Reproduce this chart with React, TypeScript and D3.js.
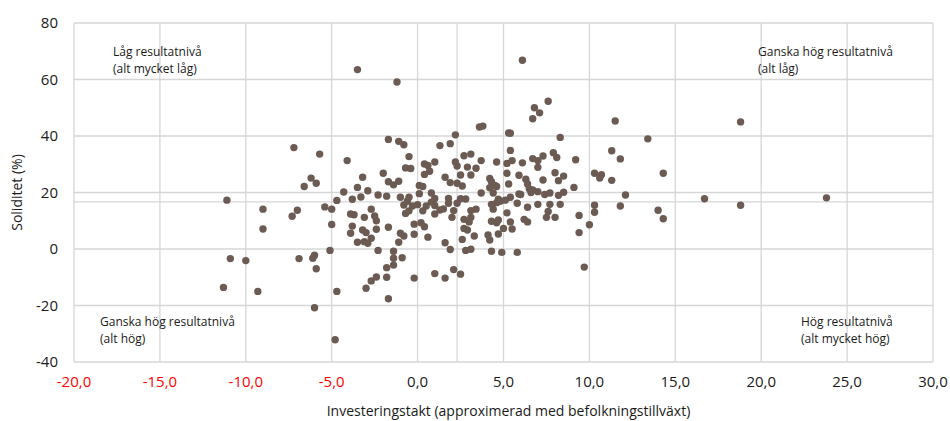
import React, { useEffect, useRef } from "react";
import * as d3 from "d3";

// [investeringstakt, soliditet]
const punkter: [number, number][] = [
  [-7.2, 35.9], [-5.7, 33.6], [-6.2, 25.1], [-6.6, 22.1], [-5.9, 23.3], [-11.1, 17.3], [-9.0, 14.1],
  [-7.0, 13.7], [-7.3, 11.6], [-5.4, 14.9], [-5.0, 14.1], [-9.0, 7.1], [-5.0, 8.7], [-10.9, -3.4],
  [-10.0, -4.1], [-6.9, -3.4], [-6.0, -2.2], [-6.1, -3.3], [-5.9, -7.0], [-5.1, -0.5], [-11.3, -13.6],
  [-9.3, -15.0], [-6.0, -20.8],
  [-3.5, 63.5], [-1.2, 59.1], [-1.7, 38.8], [-1.1, 38.1], [-0.8, 36.9], [-4.1, 31.3], [-0.5, 32.7],
  [1.3, 36.6], [1.9, 37.3], [2.2, 40.4], [-3.2, 25.4], [-2.0, 26.8], [-0.7, 28.7], [-0.4, 28.5],
  [0.4, 30.1], [0.6, 29.6], [1.0, 30.8], [0.7, 27.5], [0.4, 26.4], [2.2, 30.8], [-3.5, 21.8],
  [-1.7, 23.8], [-1.4, 22.7], [-1.1, 24.0], [0.1, 22.5], [0.3, 22.1], [1.6, 25.4], [1.9, 23.5],
  [-2.9, 20.6], [-4.3, 20.2], [-2.3, 19.1], [-1.8, 18.7], [-1.0, 18.3], [-0.5, 18.3], [0.1, 19.6],
  [0.8, 19.8], [-3.3, 18.4], [-3.8, 17.6], [-4.7, 17.2], [1.0, 17.9], [1.8, 17.9],
  [-2.7, 14.1], [-3.9, 12.4], [-3.7, 12.1], [-3.1, 11.2], [-2.5, 11.7], [-2.4, 10.0], [-0.8, 15.6],
  [-0.6, 16.9], [-0.3, 15.2], [0.0, 15.7], [-0.7, 12.6], [-0.5, 13.5], [0.3, 13.5], [0.5, 15.2],
  [0.8, 16.6], [1.0, 15.4], [1.0, 12.4], [1.3, 13.8], [1.5, 14.2], [1.8, 16.2], [2.0, 11.2],
  [-3.8, 8.1], [-3.9, 5.6], [-3.2, 6.7], [-3.0, 5.8], [-2.4, 7.0], [-1.7, 7.7], [-2.7, 3.8],
  [-2.9, 2.0], [-3.5, 2.4], [-3.1, 2.6], [-1.0, 5.6], [-0.8, 4.6], [-1.1, 2.4], [-0.2, 8.8],
  [0.2, 9.3], [0.4, 7.9], [-0.2, 5.2], [0.6, 4.2], [1.6, 2.2], [1.9, -0.2], [-2.3, -0.5],
  [-1.4, -0.8], [-1.4, -3.3], [-0.9, -3.1], [-1.4, -5.7], [-1.8, -6.6], [-2.4, -9.9], [-2.7, -11.3],
  [-1.8, -10.0], [-3.0, -13.9], [-0.2, -10.3], [1.0, -8.7], [1.6, -10.3], [2.1, -7.3], [-4.7, -15.0],
  [-1.7, -17.6], [-4.8, -32.1],
  [6.1, 66.8], [7.6, 52.3], [6.8, 50.0], [7.1, 48.2], [6.7, 46.1], [3.6, 43.2], [3.8, 43.5],
  [5.3, 41.1], [5.4, 41.0], [8.3, 39.5], [5.4, 34.9], [2.7, 33.0], [3.1, 33.6], [2.3, 29.4],
  [2.9, 29.0], [3.4, 28.6], [3.7, 31.3], [4.6, 30.8], [5.2, 30.3], [5.5, 31.3], [6.1, 30.5],
  [6.7, 32.0], [7.0, 31.3], [7.3, 32.9], [7.0, 28.9], [7.9, 34.1], [8.1, 32.4], [9.2, 31.6],
  [2.5, 26.2], [3.1, 26.2], [2.3, 23.3], [2.6, 22.3], [4.2, 25.0], [4.3, 23.8], [4.5, 22.5],
  [4.2, 21.7], [4.6, 22.1], [5.2, 26.8], [5.3, 23.0], [5.9, 26.1], [6.3, 24.7], [6.4, 23.0],
  [6.5, 21.3], [6.7, 20.9], [7.3, 24.4], [8.0, 27.0], [8.5, 25.8], [8.2, 24.2], [9.1, 21.8],
  [3.7, 19.8], [4.4, 19.8], [5.9, 19.5], [6.0, 19.3], [6.6, 20.0], [7.0, 20.3], [7.4, 19.3],
  [7.7, 19.8], [8.2, 19.0], [8.5, 20.1], [2.5, 17.8], [2.8, 17.7], [4.7, 17.6], [5.4, 18.3],
  [2.3, 16.2], [4.3, 15.8], [4.6, 16.4], [4.8, 16.9], [5.1, 17.3], [5.8, 16.2], [6.4, 14.8],
  [7.0, 15.8], [7.7, 15.8], [8.3, 15.8], [4.4, 14.1], [3.1, 13.6], [3.4, 14.1], [2.1, 13.6],
  [2.7, 10.5], [3.1, 11.2], [3.0, 9.6], [5.2, 12.8], [7.6, 13.3], [7.5, 11.2], [8.0, 11.2],
  [9.4, 11.9], [4.3, 9.8], [4.6, 9.3], [4.7, 10.3], [5.4, 9.6], [6.2, 10.5], [6.4, 9.6],
  [2.7, 7.3], [2.9, 6.7], [5.0, 7.3], [5.5, 7.1], [4.7, 5.3], [4.1, 5.0], [4.2, 3.2],
  [3.3, 4.6], [2.6, 3.4], [9.4, 5.8], [2.8, -0.5], [3.1, -0.1], [4.3, -0.8], [4.9, -1.2],
  [5.8, -1.2], [2.5, -8.9],
  [11.5, 45.3], [13.4, 39.0], [11.3, 34.8], [11.8, 31.9], [10.3, 26.8], [10.7, 26.3], [10.6, 25.1],
  [11.3, 24.3], [14.3, 26.8], [12.1, 19.1], [16.7, 17.8], [10.3, 15.5], [10.3, 13.0], [11.8, 15.2],
  [14.0, 13.7], [14.3, 10.7], [10.0, 8.6], [9.7, -6.4], [18.8, 45.0], [18.8, 15.5], [23.8, 18.1],
];

const xTicks = [-20, -15, -10, -5, 0, 5, 10, 15, 20, 25, 30];
const yTicks = [-40, -20, 0, 20, 40, 60, 80];

// medelvärden (kvadrantgränser)
const medelX = 2.3;
const medelY = 16.7;

const kvadrantEtiketter = [
  ["Låg resultatnivå", "(alt mycket låg)"],
  ["Ganska hög resultatnivå", "(alt låg)"],
  ["Ganska hög resultatnivå", "(alt hög)"],
  ["Hög resultatnivå", "(alt mycket hög)"],
];

const xTitel = "Investeringstakt (approximerad med befolkningstillväxt)";
const yTitel = "Soliditet (%)";

const W = 950;
const H = 421;
const FONT = "'Open Sans', sans-serif";

export default function App() {
  const ref = useRef<SVGSVGElement>(null);

  useEffect(() => {
    const margin = { top: 23, right: 17, bottom: 59, left: 74 };
    const width = W - margin.left - margin.right;
    const height = H - margin.top - margin.bottom;

    const root = d3.select(ref.current);
    root.selectAll("*").remove();

    const svg = root.append("g").attr("transform", `translate(${margin.left},${margin.top})`);

    const x = d3.scaleLinear().domain([-20, 30]).range([0, width]);
    const y = d3.scaleLinear().domain([-40, 80]).range([height, 0]);

    // Grid
    svg
      .selectAll(".vgrid")
      .data(xTicks)
      .join("line")
      .attr("x1", (d) => x(d))
      .attr("x2", (d) => x(d))
      .attr("y1", 0)
      .attr("y2", height)
      .attr("stroke", "#d6d6d6")
      .attr("stroke-width", 1.3);

    svg
      .selectAll(".hgrid")
      .data(yTicks)
      .join("line")
      .attr("x1", 0)
      .attr("x2", width)
      .attr("y1", (d) => y(d))
      .attr("y2", (d) => y(d))
      .attr("stroke", "#d6d6d6")
      .attr("stroke-width", 1.3);

    // Mean lines
    svg
      .append("line")
      .attr("x1", x(medelX))
      .attr("x2", x(medelX))
      .attr("y1", 0)
      .attr("y2", height)
      .attr("stroke", "#d6d6d6")
      .attr("stroke-width", 1.3);
    svg
      .append("line")
      .attr("x1", 0)
      .attr("x2", width)
      .attr("y1", y(medelY))
      .attr("y2", y(medelY))
      .attr("stroke", "#d6d6d6")
      .attr("stroke-width", 1.3);

    // X tick labels
    svg
      .selectAll(".xlab")
      .data(xTicks)
      .join("text")
      .attr("x", (d) => x(d))
      .attr("y", height + 25)
      .attr("text-anchor", "middle")
      .attr("font-family", FONT)
      .attr("font-size", 15)
      .attr("fill", (d) => (d < 0 ? "#ff0000" : "#1a1a1a"))
      .text((d) => d3.format(".1f")(d).replace("−", "-").replace(".", ","));

    // Y tick labels
    svg
      .selectAll(".ylab")
      .data(yTicks)
      .join("text")
      .attr("x", -16)
      .attr("y", (d) => y(d))
      .attr("dy", "0.36em")
      .attr("text-anchor", "end")
      .attr("font-family", FONT)
      .attr("font-size", 15)
      .attr("fill", "#1a1a1a")
      .text((d) => String(d).replace("−", "-"));

    // Axis titles
    svg
      .append("text")
      .attr("x", width / 2 + 5)
      .attr("y", height + 54)
      .attr("text-anchor", "middle")
      .attr("font-family", FONT)
      .attr("font-size", 14)
      .attr("fill", "#1a1a1a")
      .text(xTitel);

    svg
      .append("text")
      .attr("transform", `translate(${-margin.left + 22},${height / 2}) rotate(-90)`)
      .attr("text-anchor", "middle")
      .attr("font-family", FONT)
      .attr("font-size", 14)
      .attr("fill", "#1a1a1a")
      .text(yTitel);

    // Quadrant labels
    const etikettPos = [
      [113, 56],
      [758, 56],
      [100, 326],
      [801, 326],
    ];
    kvadrantEtiketter.forEach((rader, i) => {
      const t = root
        .append("text")
        .attr("font-family", FONT)
        .attr("font-size", 12)
        .attr("fill", "#1a1a1a");
      rader.forEach((r, j) => {
        t.append("tspan")
          .attr("x", etikettPos[i][0])
          .attr("y", etikettPos[i][1] + j * 17)
          .text(r);
      });
    });

    // Points
    svg
      .selectAll(".punkt")
      .data(punkter)
      .join("circle")
      .attr("cx", (d) => x(d[0]))
      .attr("cy", (d) => y(d[1]))
      .attr("r", 3.7)
      .attr("fill", "#6b5b53");
  }, []);

  return (
    <svg
      ref={ref}
      width={W}
      height={H}
      style={{ position: "absolute", left: 0, top: 0, background: "#fff" }}
    />
  );
}
